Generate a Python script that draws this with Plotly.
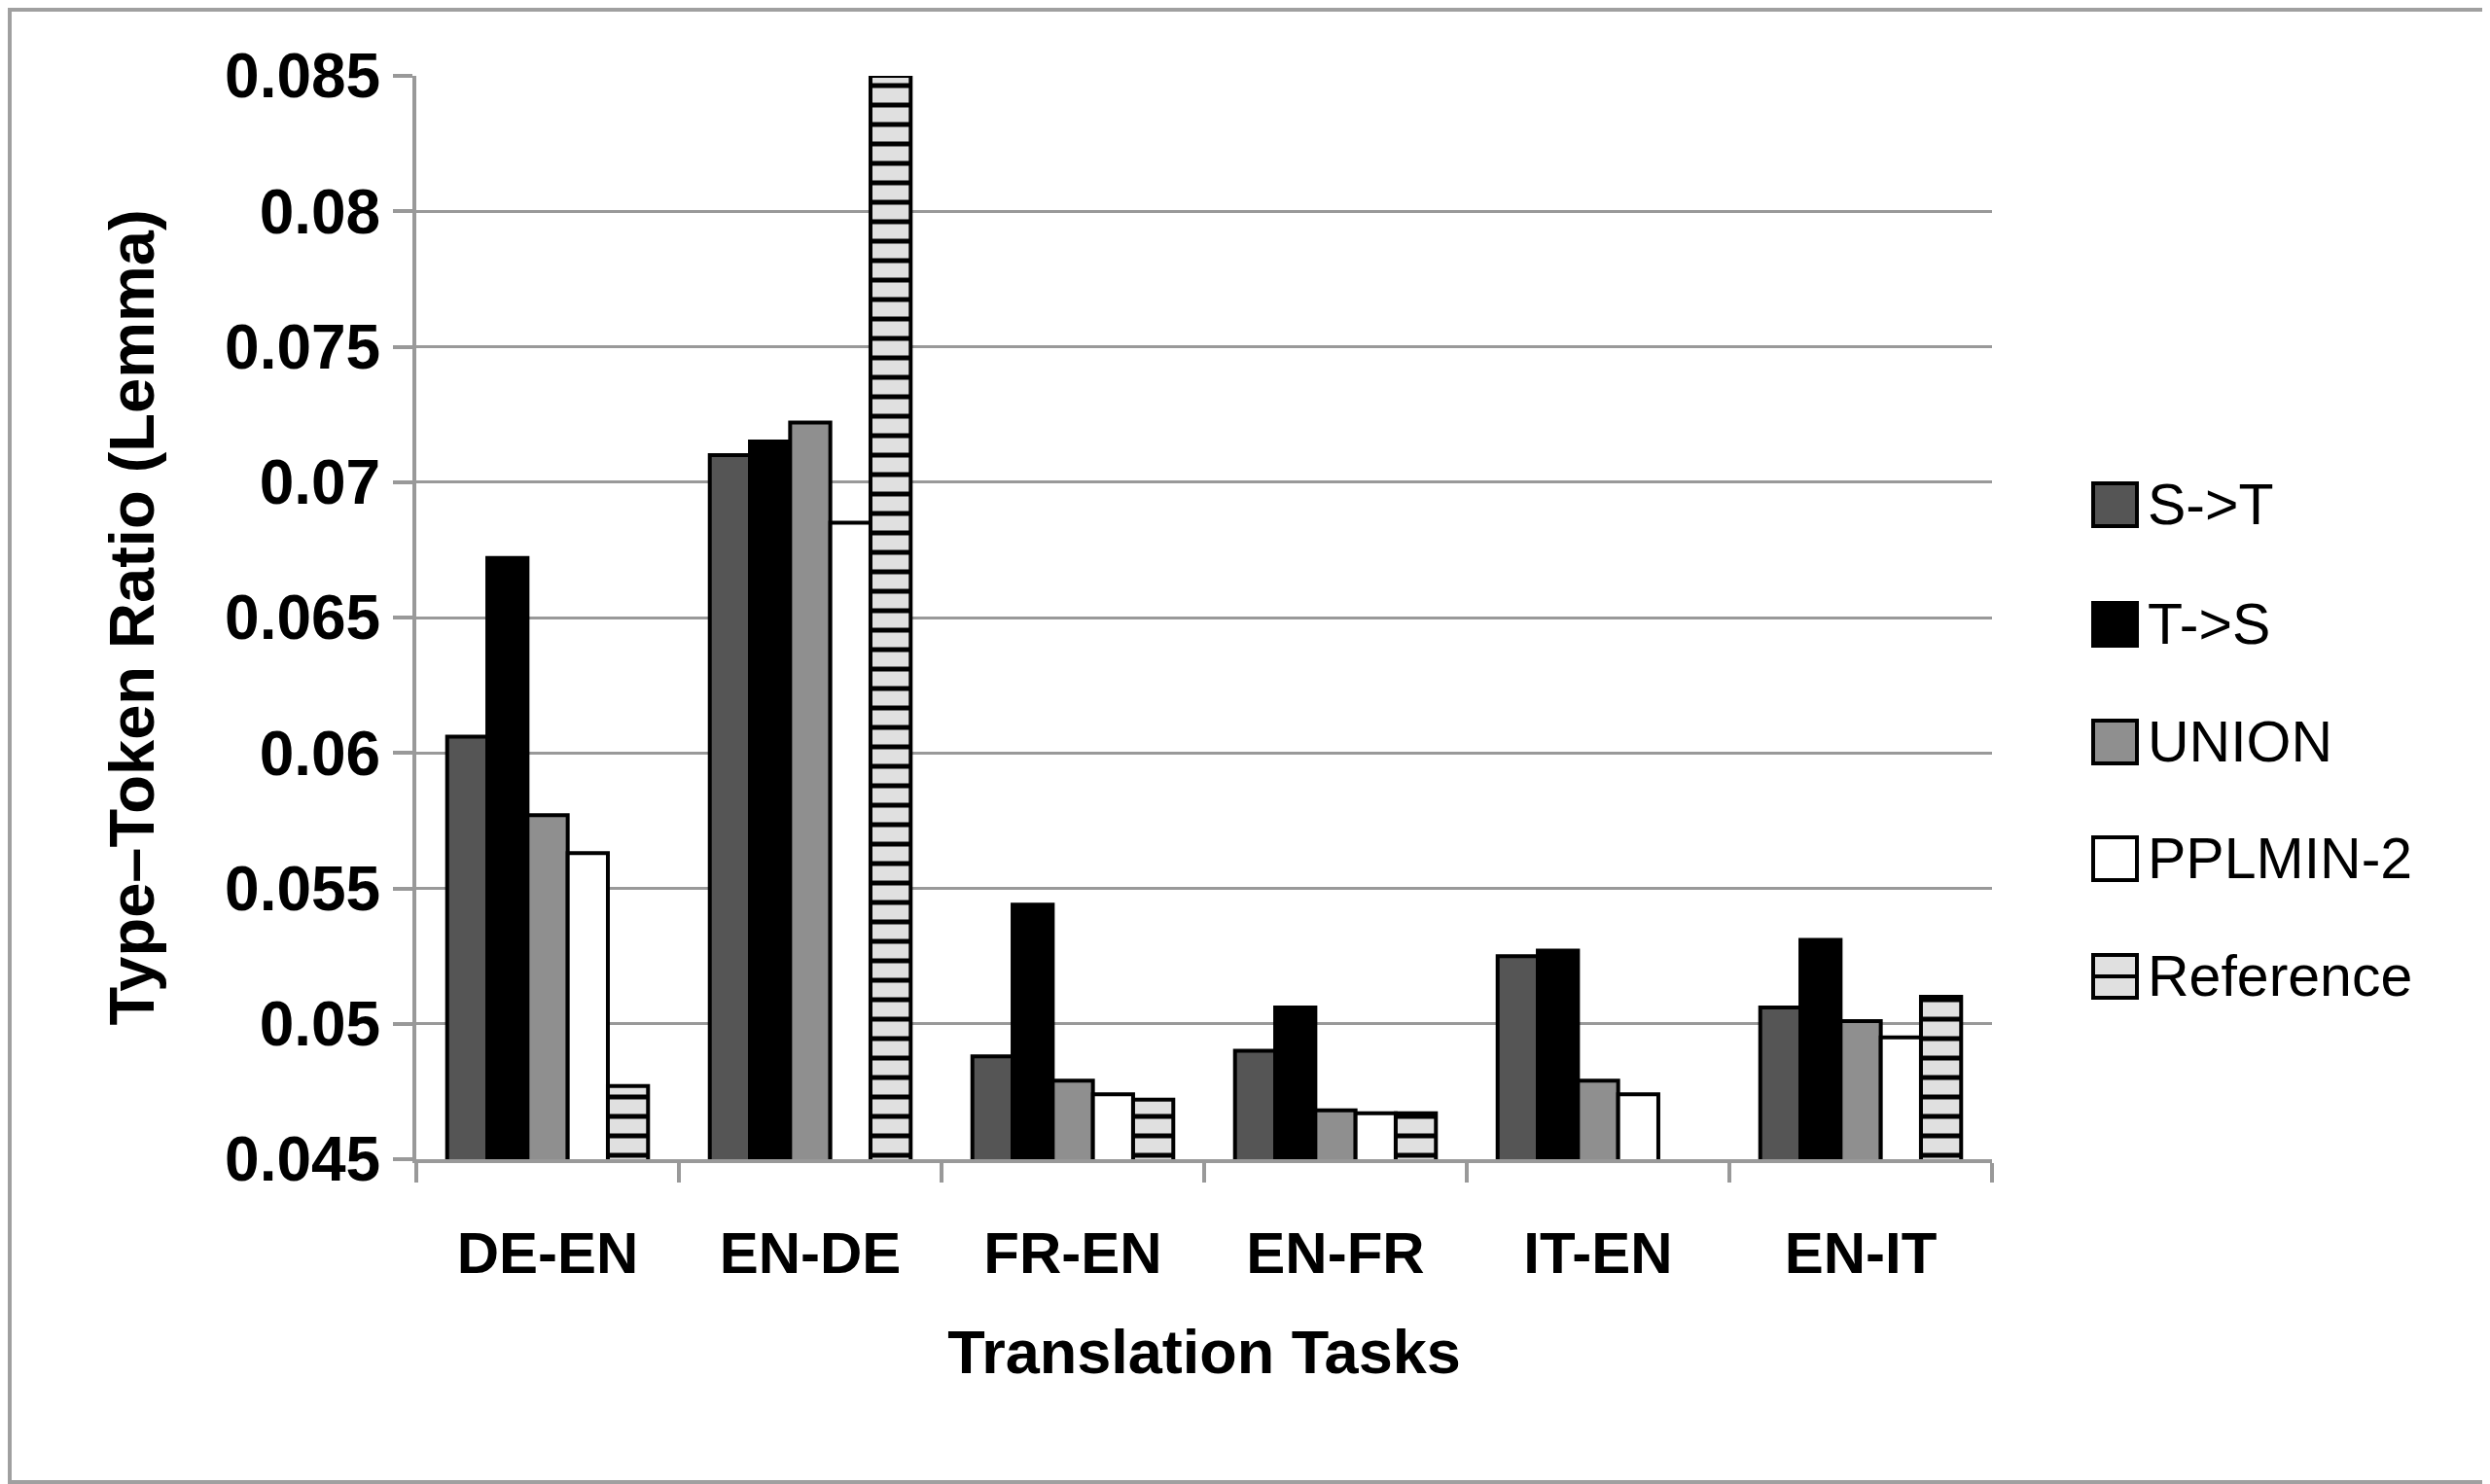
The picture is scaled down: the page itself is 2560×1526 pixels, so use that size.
import plotly.graph_objects as go

# ---------------- data ----------------
categories = ["DE-EN", "EN-DE", "FR-EN", "EN-FR", "IT-EN", "EN-IT"]
series_names = ["S->T", "T->S", "UNION", "PPLMIN-2", "Reference"]
s_to_t = [0.0606, 0.0710, 0.0488, 0.0490, 0.0525, 0.0506]
t_to_s = [0.0672, 0.0715, 0.0544, 0.0506, 0.0527, 0.0531]
union = [0.0577, 0.0722, 0.0479, 0.0468, 0.0479, 0.0501]
pplmin2 = [0.0563, 0.0685, 0.0474, 0.0467, 0.0474, 0.0495]
reference = [0.0477, 0.0850, 0.0472, 0.0467, None, 0.0510]
y_ticks = [0.045, 0.05, 0.055, 0.06, 0.065, 0.07, 0.075, 0.08, 0.085]
y_tick_labels = ["0.045", "0.05", "0.055", "0.06", "0.065", "0.07", "0.075", "0.08", "0.085"]

series_values = [s_to_t, t_to_s, union, pplmin2, reference]
fills = ["#555555", "#000000", "#8f8f8f", "#ffffff", "#e0e0e0"]

# ---------------- layout constants (page pixels) ----------------
OFF = 8                      # default body margin of the html page
PAGE_W, PAGE_H = 2560, 1526
W, H = PAGE_W - OFF, PAGE_H - OFF
L, R, T, B = 428, 2048, 78, 1192   # plot area in page pixels
PW, PH = R - L, B - T

def px_x(x):
    return (x - L) / PW

def px_y(y):
    return (B - y) / PH

FONT = "Liberation Sans"
GRID = "#999999"

fig = go.Figure()
for name, vals, col in zip(series_names, series_values, fills):
    marker = dict(color=col, line=dict(color="#000000", width=4))
    if name == "Reference":
        marker["pattern"] = dict(shape="-", fgcolor="#000000", bgcolor="#e0e0e0",
                                 size=20, solidity=0.25, fillmode="replace")
    fig.add_trace(go.Bar(x=categories, y=vals, name=name, marker=marker,
                         showlegend=False))

# manual legend (large swatches like the original)
legend_y = [519, 642, 763, 883, 1004]
shapes = []
annotations = []
for name, col, yc in zip(series_names, fills, legend_y):
    x0, x1 = 2152, 2197
    y0, y1 = yc - 22, yc + 22
    shapes.append(dict(type="rect", xref="paper", yref="paper",
                       x0=px_x(x0), x1=px_x(x1), y0=px_y(y1), y1=px_y(y0),
                       fillcolor=col, line=dict(color="#000000", width=4)))
    if name == "Reference":
        shapes.append(dict(type="line", xref="paper", yref="paper",
                           x0=px_x(x0), x1=px_x(x1), y0=px_y(yc), y1=px_y(yc),
                           line=dict(color="#000000", width=4)))
    annotations.append(dict(text=name, xref="paper", yref="paper",
                            x=px_x(2206), y=px_y(yc), xanchor="left", yanchor="middle",
                            showarrow=False, font=dict(family=FONT, size=59, color="#000000")))

# outer frame
shapes.append(dict(type="rect", xref="paper", yref="paper",
                   x0=px_x(OFF + 2), x1=px_x(PAGE_W - 2), y0=px_y(PAGE_H - 2), y1=px_y(OFF + 2),
                   line=dict(color="#a0a0a0", width=4), fillcolor="rgba(0,0,0,0)",
                   layer="below"))

fig.update_layout(
    width=W, height=H,
    margin=dict(l=L - OFF, r=PAGE_W - R, t=T - OFF, b=PAGE_H - B, autoexpand=False),
    paper_bgcolor="#ffffff", plot_bgcolor="#ffffff",
    barmode="group", bargap=0.235, bargroupgap=0,
    shapes=shapes, annotations=annotations,
    font=dict(family=FONT, color="#000000"),
)
fig.update_xaxes(
    type="category", showline=True, linecolor=GRID, linewidth=4,
    ticks="outside", tickson="boundaries", ticklen=20, tickwidth=4, tickcolor=GRID,
    tickfont=dict(family=FONT, size=60, color="#000000", weight="bold"),
    ticklabelstandoff=41,
    title=dict(text="Translation Tasks", standoff=48,
               font=dict(family=FONT, size=63, color="#000000", weight="bold")),
    showgrid=False,
)
fig.update_yaxes(
    range=[0.045, 0.085], tickvals=y_ticks, ticktext=y_tick_labels,
    showline=True, linecolor=GRID, linewidth=4,
    ticks="outside", ticklen=20, tickwidth=4, tickcolor=GRID,
    showgrid=True, gridcolor=GRID, gridwidth=3, zeroline=False,
    tickfont=dict(family=FONT, size=64, color="#000000", weight="bold"),
    title=dict(text="Type–Token Ratio (Lemma)", standoff=52,
               font=dict(family=FONT, size=65, color="#000000", weight="bold")),
)

fig.write_html("out.html")
